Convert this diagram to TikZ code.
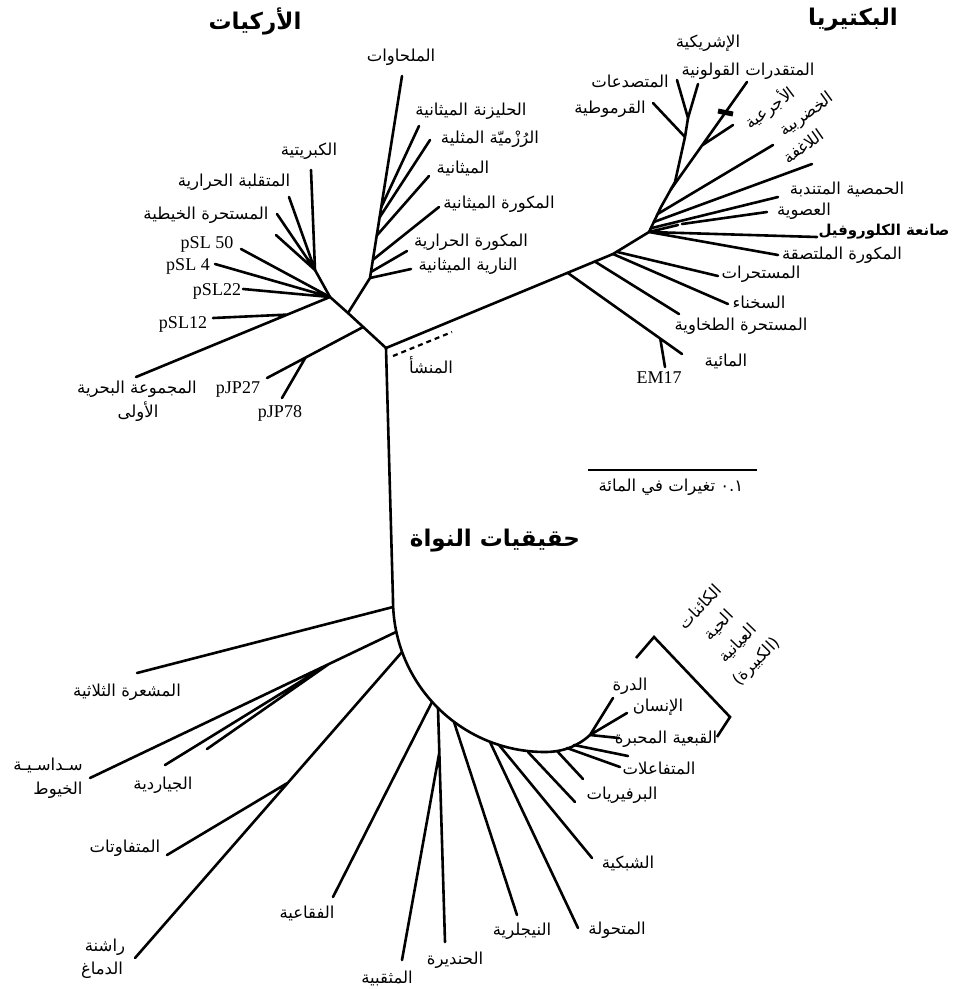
\documentclass[tikz,border=0pt]{standalone}
\usepackage{fontspec}
\setmainfont{Liberation Serif}
\newfontfamily\arfont[Script=Arabic]{DejaVu Sans}
\TeXXeTstate=1
\usetikzlibrary{calc}
\newcommand{\artx}[1]{{\arfont\beginR #1\endR}}
\tikzset{
  br/.style={line width=2.6pt, line cap=round},
  lab/.style={font=\fontsize{16.5}{19}\selectfont, inner sep=0pt},
  lat/.style={font=\fontsize{18}{20}\selectfont, inner sep=0pt},
  ttl/.style={font=\bfseries\fontsize{23}{26}\selectfont, inner sep=0pt},
}
\begin{document}
\begin{tikzpicture}[x=1pt,y=-1pt]
\useasboundingbox[fill=white] (0,0) rectangle (957,989);

% ---------------- Archaea ----------------
\coordinate (R) at (386,348);
\coordinate (A) at (348,313);
\coordinate (C) at (330,297);
\coordinate (C1) at (315,270);
\coordinate (tKib) at (311,170);
\coordinate (tMut) at (289,197);
\coordinate (tKhy) at (277,214);
\coordinate (tUnl) at (276,235);
\coordinate (t50) at (241,249);
\coordinate (t4) at (215,264);
\coordinate (t22) at (243,289);
\coordinate (tMar) at (136,377);
\coordinate (b12) at ($(C)!0.22!(tMar)$);
\coordinate (t12) at (213,318);
\coordinate (bJP) at ($(A)!0.4!(R)$);
\coordinate (t27) at (267,378);
\coordinate (b78) at ($(bJP)!0.6!(t27)$);
\coordinate (t78) at (282,398);

\draw[br] (R) -- (A) -- (C) -- (C1);
\draw[br] (C1) -- (tKib) (C1) -- (tMut) (C1) -- (tKhy) (C1) -- (tUnl);
\draw[br] (C) -- (t50) (C) -- (t4) (C) -- (t22) (C) -- (tMar) (b12) -- (t12);
\draw[br] (bJP) -- (t27) (b78) -- (t78);

\coordinate (M1) at (370,278);
\coordinate (Mtop) at (402,76);
\coordinate (tNar) at (411,269);
\coordinate (bMH) at ($(M1)!0.03!(Mtop)$);
\coordinate (tMH) at (407,251);
\coordinate (bMM) at ($(M1)!0.09!(Mtop)$);
\coordinate (tMM) at (439,207);
\coordinate (bMe) at ($(M1)!0.21!(Mtop)$);
\coordinate (tMe) at (429,176);
\coordinate (bRz) at ($(M1)!0.30!(Mtop)$);
\coordinate (tRz) at (430,140);
\coordinate (bHl) at ($(M1)!0.35!(Mtop)$);
\coordinate (tHl) at (419,126);
\draw[br] (A) -- (M1) -- (Mtop);
\draw[br] (M1) -- (tNar) (bMH) -- (tMH) (bMM) -- (tMM) (bMe) -- (tMe)
  (bRz) -- (tRz) (bHl) -- (tHl);

% ---------------- Bacteria ----------------
\coordinate (S1) at (613,254);
\coordinate (B) at (649,232);
\coordinate (B2) at (661,207);
\coordinate (B3) at (675,182);
\coordinate (B4) at (685,137);
\coordinate (B5) at (688,118);
\draw[br] (R) -- (S1) -- (B) -- (B2) -- (B3) -- (B4) -- (B5);
\coordinate (bLg) at ($(B2)!0.7!(B3)$);
\coordinate (tLg) at (747,82);
\coordinate (xb1) at (718,111);
\coordinate (xb2) at (733,114);
\coordinate (bAj) at ($(bLg)!0.41!(tLg)$);
\coordinate (tAj) at (733,125);
\coordinate (bKh) at ($(B)!0.72!(B2)$);
\coordinate (tKh) at (773,145);
\coordinate (bLa) at ($(B)!0.4!(B2)$);
\coordinate (tLa) at (812,164);
\coordinate (bHm) at ($(B)!0.15!(B2)$);
\coordinate (tHm) at (778,197);
\coordinate (mAs) at (678,225);
\coordinate (nAs) at (682,224);
\coordinate (tAs) at (767,212);
\coordinate (tSa) at (817,237);
\coordinate (tMl) at (778,255);
\coordinate (bMs) at ($(S1)!0.1!(B)$);
\coordinate (tMs) at (718,276);
\coordinate (tSk) at (728,304);
\coordinate (bTk) at ($(R)!0.92!(S1)$);
\coordinate (tTk) at (679,314);
\coordinate (bMa) at ($(R)!0.8!(S1)$);
\coordinate (tMa) at (682,354);
\coordinate (bEM) at ($(bMa)!0.81!(tMa)$);
\coordinate (tEM) at (665,367);
\coordinate (tQr) at (653,103);
\coordinate (tMt) at (677,80);
\coordinate (tMq) at (698,84);
\draw[br] (bLg) -- (tLg) (bAj) -- (tAj) (bKh) -- (tKh) (bLa) -- (tLa)
  (bHm) -- (tHm) (B) -- (mAs) (nAs) -- (tAs) (B) -- (tSa) (B) -- (tMl)
  (bMs) -- (tMs) (S1) -- (tSk) (bTk) -- (tTk) (bMa) -- (tMa) (bEM) -- (tEM)
  (B4) -- (tQr) (B5) -- (tMt) (B5) -- (tMq);
\draw[line width=5pt] (xb1) -- (xb2);

% origin dashes
\coordinate (d1) at (393,356);
\coordinate (d2) at (452,332);
\draw[line width=2.2pt, dash pattern=on 5pt off 4pt] (d1) -- (d2);

% ---------------- Eukaryota ----------------
\coordinate (E1) at (393,600);
\coordinate (Eb) at (545,752);
\coordinate (K) at (590,735);
\draw[br] (R) -- (E1) .. controls (393,684) and (461,752) .. (Eb)
  .. controls (563,752) and (578,746) .. (K);
\coordinate (bTr) at (393,607);   \coordinate (tTr) at (137,673);
\coordinate (bHx) at (396,632);   \coordinate (tHx) at (90,778);
\coordinate (bGi) at ($(bHx)!0.22!(tHx)$);
\coordinate (tGi) at (165,765);   \coordinate (tGj) at (207,749);
\coordinate (bEn) at (402,652);   \coordinate (tEn) at (135,958);
\coordinate (bVa) at ($(bEn)!0.427!(tEn)$); \coordinate (tVa) at (167,855);
\coordinate (bFq) at (432,702);   \coordinate (tFq) at (333,897);
\coordinate (bHn) at (438,708);   \coordinate (tHn) at (445,942);
\coordinate (bTy) at ($(bHn)!0.19!(tHn)$); \coordinate (tTy) at (402,960);
\coordinate (bNg) at (454,722);   \coordinate (tNg) at (517,915);
\coordinate (bMt) at (490,742);   \coordinate (tMtv) at (578,928);
\coordinate (bSh) at (499,745);   \coordinate (tSh) at (592,858);
\coordinate (bPr) at (528,752);   \coordinate (tPr) at (575,802);
\coordinate (b6) at (557,751);    \coordinate (t6) at (583,779);
\coordinate (b5) at (567,748);    \coordinate (t5) at (620,767);
\coordinate (b4) at (574,745);    \coordinate (t4e) at (628,756);
\coordinate (tDr) at (613,698);
\coordinate (tIn) at (627,713);
\coordinate (tQb) at (619,738);
\draw[br] (bTr) -- (tTr) (bHx) -- (tHx) (bGi) -- (tGi) (bGi) -- (tGj)
  (bEn) -- (tEn) (bVa) -- (tVa) (bFq) -- (tFq) (bHn) -- (tHn) (bTy) -- (tTy)
  (bNg) -- (tNg) (bMt) -- (tMtv) (bSh) -- (tSh) (bPr) -- (tPr) (b6) -- (t6)
  (b5) -- (t5) (b4) -- (t4e) (K) -- (tDr) (K) -- (tIn) (K) -- (tQb);

% bracket
\coordinate (k1) at (636,658);
\coordinate (k2) at (654,637);
\coordinate (k3) at (730,717);
\coordinate (k4) at (717,737);
\draw[line width=2.6pt, line join=miter] (k1) -- (k2) -- (k3) -- (k4);

% scale bar
\coordinate (s1) at (588,470);
\coordinate (s2) at (757,470);
\draw[line width=2.2pt] (s1) -- (s2);

% ---------------- Labels ----------------
\node[ttl] (tA) at (255,21) {\artx{الأركيات}};
\node[ttl] (tB) at (853,20) {\artx{البكتيريا}};
\node[ttl] (tE) at (495,541) {\artx{حقيقيات النواة}};

\node[lab] (l1) at (401,57) {\artx{الملحاوات}};
\node[lab] (l2) at (471,111) {\artx{الحليزنة الميثانية}};
\node[lab] (l3) at (490,139) {\artx{الرُزْميّة المثلية}};
\node[lab] (l4) at (463,168) {\artx{الميثانية}};
\node[lab] (l5) at (499,204) {\artx{المكورة الميثانية}};
\node[lab] (l6) at (471,242) {\artx{المكورة الحرارية}};
\node[lab] (l7) at (468,266) {\artx{النارية الميثانية}};
\node[lab] (l8) at (309,151) {\artx{الكبريتية}};
\node[lab] (l9) at (234,182) {\artx{المتقلبة الحرارية}};
\node[lab] (l10) at (206,215) {\artx{المستحرة الخيطية}};
\node[lat] (l11) at (207,244) {pSL 50};
\node[lat] (l12) at (188,266) {pSL 4};
\node[lat] (l13) at (217,291) {pSL22};
\node[lat] (l14) at (183,324) {pSL12};
\node[lab] (l15) at (137,389) {\artx{المجموعة البحرية}};
\node[lab] (l16) at (138,412) {\artx{الأولى}};
\node[lat] (l17) at (238,389) {pJP27};
\node[lat] (l18) at (280,413) {pJP78};
\node[lab] (l19) at (431,365) {\artx{المنشأ}};

\node[lab] (b1) at (708,43) {\artx{الإشريكية}};
\node[lab] (b2) at (748,71) {\artx{المتقدرات القولونية}};
\node[lab] (b3) at (630,81) {\artx{المتصدعات}};
\node[lab] (b4l) at (610,109) {\artx{القرموطية}};
\node[lab, rotate=37] (b5l) at (770,108) {\artx{الأجرعية}};
\node[lab, rotate=36] (b6l) at (807,115) {\artx{الخضربية}};
\node[lab, rotate=35] (b7l) at (803,146) {\artx{اللاغفة}};
\node[lab] (b8) at (847,189) {\artx{الحمصية المتندبة}};
\node[lab] (b9) at (804,211) {\artx{العصوية}};
\node[lab, font=\bfseries\fontsize{15}{18}\selectfont] (b10) at (884,232) {\artx{صانعة الكلوروفيل}};
\node[lab] (b11) at (842,255) {\artx{المكورة الملتصقة}};
\node[lab] (b12l) at (761,274) {\artx{المستحرات}};
\node[lab] (b13) at (759,302) {\artx{السخناء}};
\node[lab] (b14) at (741,326) {\artx{المستحرة الطخاوية}};
\node[lab] (b15) at (726,361) {\artx{المائية}};
\node[lat] (b16) at (659,378) {EM17};

\node[lab] (sc) at (671,487) {\artx{\beginL ٠.١\endL\ تغيرات في المائة}};

\node[lab, rotate=46, align=center, font=\fontsize{16.5}{26}\selectfont] (mac) at (729,635)
  {\artx{الكائنات}\\\artx{الحية}\\\artx{العيانية}\\\artx{(الكبيرة)}};
\node[lab] (e1) at (630,686) {\artx{الدرة}};
\node[lab] (e2) at (658,707) {\artx{الإنسان}};
\node[lab] (e3) at (666,739) {\artx{القبعية المحبرة}};
\node[lab] (e4) at (659,768) {\artx{المتفاعلات}};
\node[lab] (e5) at (622,795) {\artx{البرفيريات}};
\node[lab] (e6) at (628,863) {\artx{الشبكية}};
\node[lab] (e7) at (617,930) {\artx{المتحولة}};
\node[lab] (e8) at (522,931) {\artx{النيجلرية}};
\node[lab] (e9) at (455,960) {\artx{الحنديرة}};
\node[lab] (e10) at (387,978) {\artx{المثقبية}};
\node[lab] (e11) at (307,913) {\artx{الفقاعية}};
\node[lab] (e12) at (105,947) {\artx{راشنة}};
\node[lab] (e13) at (102,970) {\artx{الدماغ}};
\node[lab] (e14) at (125,848) {\artx{المتفاوتات}};
\node[lab] (e15) at (163,785) {\artx{الجياردية}};
\node[lab] (e16) at (48,765) {\artx{سـداسـيـة}};
\node[lab] (e17) at (58,790) {\artx{الخيوط}};
\node[lab] (e18) at (127,692) {\artx{المشعرة الثلاثية}};
\end{tikzpicture}
\end{document}
